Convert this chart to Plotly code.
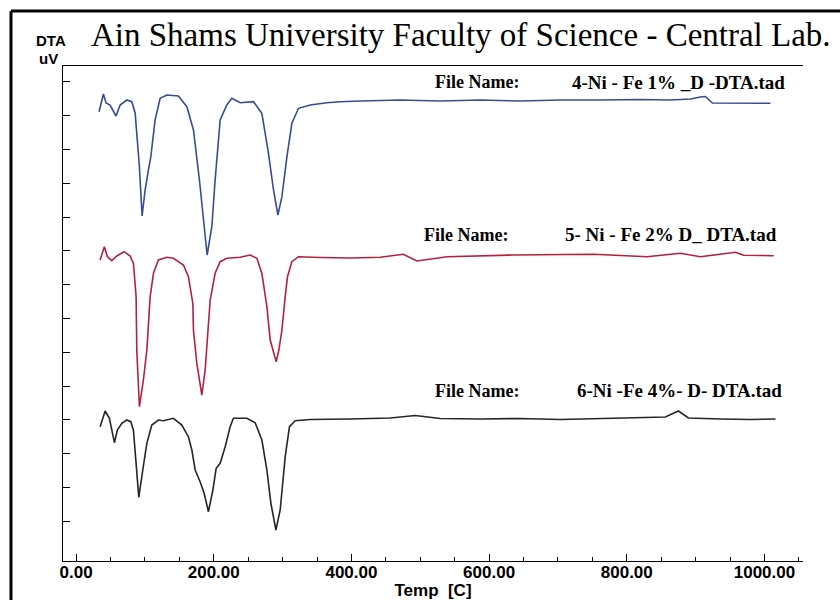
import plotly.graph_objects as go

# ---------------- data ----------------
# Temperature in deg C, DTA signal in arbitrary uV units (one axis tick = 33.8 units)
temp_1 = [33.4, 39.7, 43.6, 49.4, 58.1, 64.0, 73.7, 81.0, 85.8, 89.1, 92.0, 95.9, 100.3, 105.1,
          108.6, 114.8, 122.1, 131.8, 148.7, 160.9, 170.5, 179.2, 185.0, 190.4, 197.2, 202.0,
          209.3, 219.0, 226.3, 238.4, 257.7, 269.9, 279.5, 286.8, 293.2, 299.0, 306.3, 313.5,
          323.1, 340.1, 364.4, 383.7, 412.8, 470.9, 529.1, 587.2, 645.3, 703.5, 761.6, 819.8,
          863.4, 892.4, 907.0, 914.2, 924.4, 950.6, 979.7, 1008.7]
dta_1 = [443.3, 461, 452, 450, 439, 450, 455, 453.3, 442, 415, 388.3, 339, 365, 385,
         398.3, 435, 456.7, 460, 459, 448.3, 425, 375, 335, 300, 328.3, 375,
         435, 450, 456.7, 452.3, 453.3, 441.7, 401.7, 365, 340, 358.3, 398.3, 431.7,
         446.7, 450, 452.3, 453.3, 454, 455, 454, 455, 454, 455, 455, 455.5,
         455, 456, 458, 458.5, 452, 452, 451.5, 451.7]

temp_2 = [34.9, 41.1, 45.5, 51.9, 59.2, 69.8, 78.5, 83.3, 87.2, 88.2, 92.0, 97.8, 102.8, 107.6,
          112.4, 119.6, 131.8, 141.4, 156.0, 163.2, 169.6, 170.5, 175.4, 182.7, 187.5, 190.8,
          194.8, 202.0, 209.3, 219.0, 238.4, 252.9, 262.6, 269.9, 277.2, 282.0, 286.8, 290.7,
          294.6, 299.0, 303.8, 307.1, 313.5, 323.1, 354.7, 398.3, 441.9, 475.3, 495.2, 538.8,
          635.2, 684.2, 751.9, 829.5, 877.9, 907.0, 957.8, 969.9, 1013.5]
dta_2 = [295, 308.3, 298.3, 294.3, 299, 303.3, 299, 291.7, 258.3, 205, 148.3, 175, 205, 258.3,
         281.7, 295, 297.7, 296.7, 290, 278.3, 251.7, 225, 191.7, 160, 185, 215,
         255, 281.7, 293.3, 296.7, 297.7, 300, 296.7, 281.7, 248.3, 215, 201.7, 193.3,
         205, 225, 258.3, 278.3, 293.3, 298.3, 297.5, 297, 297.7, 300.7, 294, 298.3,
         300, 300.3, 300.7, 298.3, 301.7, 298.3, 302.7, 299.7, 299.3]

temp_3 = [34.9, 42.2, 48.4, 55.7, 60.0, 66.4, 73.7, 79.5, 83.3, 86.8, 91.1, 96.9, 102.8, 110.0,
          119.6, 126.9, 141.4, 153.6, 163.2, 168.2, 173.0, 180.2, 186.0, 192.3, 198.7, 203.5,
          209.3, 216.6, 223.8, 228.6, 248.1, 260.2, 269.9, 277.2, 283.0, 290.3, 296.5, 303.8,
          310.0, 318.3, 340.1, 398.3, 456.4, 492.7, 529.1, 587.2, 645.3, 703.5, 761.6, 819.8,
          856.1, 875.0, 889.5, 936.0, 979.7, 1016.0]
dta_3 = [128.3, 144, 136.7, 112.3, 125, 131.7, 135, 133.3, 125, 91.7, 57.7, 85, 111.7, 130,
         135, 134.3, 136.7, 130, 118.3, 105, 85, 73.3, 61.7, 43.3, 65, 86.7,
         91.7, 108.3, 128.3, 136.7, 136.7, 132.3, 115, 85, 51.7, 25, 45, 98.3,
         128.3, 134.3, 135.5, 136, 137, 139.5, 136.5, 136, 136.5, 135.5, 136.5, 137,
         138, 144, 137, 136, 135.5, 136]

series_colors = ["#3a4b94", "#b3213f", "#262626"]
file_labels = ["4-Ni - Fe 1% _D -DTA.tad", "5- Ni - Fe 2% D_ DTA.tad", "6-Ni -Fe 4%- D- DTA.tad"]

title_text = "Ain Shams University Faculty of Science - Central Lab."
x_title = "Temp\u00a0\u00a0[C]"
y_unit_tick = 33.8

# ---------------- figure ----------------
W, H = 840, 600
L, R, T, B = 63, 37, 66, 39
pw, ph = W - L - R, H - T - B


def xp(px):
    return (px - L) / pw


def yp(py):
    return (H - B - py) / ph


fig = go.Figure()
for xs, ys, col in zip([temp_1, temp_2, temp_3], [dta_1, dta_2, dta_3], series_colors):
    fig.add_trace(go.Scatter(x=xs, y=ys, mode="lines",
                             line=dict(color=col, width=1.6), showlegend=False,
                             hoverinfo="x+y"))

sans = "Liberation Sans, Arial, sans-serif"
serif = "Liberation Serif, Times New Roman, serif"

fig.update_layout(
    width=W, height=H,
    margin=dict(l=L, r=R, t=T, b=B, pad=0),
    paper_bgcolor="white", plot_bgcolor="white",
    showlegend=False,
    xaxis=dict(
        range=[-19, 1056], showgrid=False, zeroline=False,
        showline=True, linecolor="black", linewidth=1.3, mirror=True,
        ticks="inside", ticklen=7, tickwidth=1, tickcolor="black",
        tick0=0, dtick=200, tickformat=".2f",
        minor=dict(ticks="inside", dtick=50, ticklen=4, tickcolor="black", tickwidth=1),
        tickfont=dict(family=sans, size=17, color="black", weight="bold"),
        ticklabelstandoff=-5,
        title=dict(text=x_title, font=dict(family=sans, size=17, color="black", weight="bold"),
                   standoff=0),
        automargin=False,
    ),
    yaxis=dict(
        range=[-6, 489], showgrid=False, zeroline=False,
        showline=True, linecolor="black", linewidth=1.3, mirror=False,
        ticks="inside", ticklen=7, tickwidth=1, tickcolor="black",
        tickvals=[y_unit_tick * k for k in range(1, 15)],
        showticklabels=False, automargin=False,
    ),
)

# outer frame (thick black border on the top and left edges)
fig.add_shape(type="line", xref="paper", yref="paper",
              x0=xp(11), x1=xp(845), y0=yp(11), y1=yp(11),
              line=dict(color="black", width=3))
fig.add_shape(type="line", xref="paper", yref="paper",
              x0=xp(11), x1=xp(11), y0=yp(11), y1=yp(605),
              line=dict(color="black", width=3))

ann = []
ann.append(dict(text=title_text, x=xp(89), y=yp(35), xanchor="left", yanchor="middle",
                font=dict(family=serif, size=33, color="black")))
ann.append(dict(text="DTA", x=xp(51), y=yp(40.5), xanchor="center", yanchor="middle",
                font=dict(family=sans, size=15, color="black", weight="bold")))
ann.append(dict(text="uV", x=xp(48), y=yp(58.5), xanchor="center", yanchor="middle",
                font=dict(family=sans, size=15, color="black", weight="bold")))

label_pos = [(433, 570, 82.0), (422, 563, 234.8), (433, 575, 390.8)]
for (fx, nx, cy), lab in zip(label_pos, file_labels):
    ann.append(dict(text="File Name:", x=xp(fx), y=yp(cy), xanchor="left", yanchor="middle",
                    font=dict(family=serif, size=18, color="black", weight="bold")))
    ann.append(dict(text=lab, x=xp(nx), y=yp(cy), xanchor="left", yanchor="middle",
                    font=dict(family=serif, size=19, color="black", weight="bold")))

for a in ann:
    a.update(xref="paper", yref="paper", showarrow=False)
fig.update_layout(annotations=ann)

fig.write_html("out.html")
